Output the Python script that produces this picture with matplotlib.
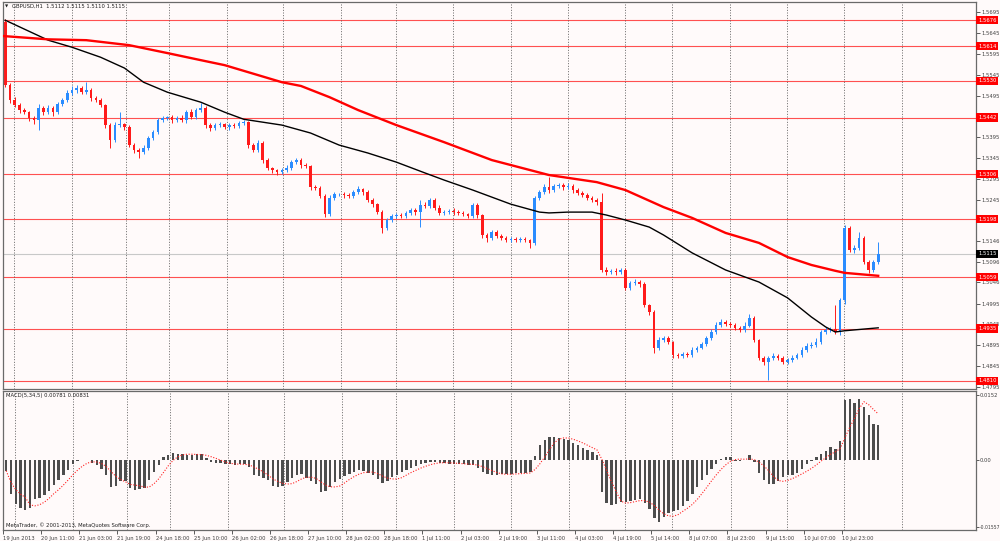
import numpy as np
import pandas as pd
import matplotlib
matplotlib.use("Agg")
import matplotlib.pyplot as plt
from matplotlib.transforms import blended_transform_factory

# GBPUSD H1 shown as 2-hour candles, 19 Jun - 10 Jul 2013
first_open = 1.5672
closes = [
    1.5520, 1.5484, 1.5472, 1.5460, 1.5455, 1.5441, 1.5436, 1.5465, 1.5455, 1.5465,
    1.5455, 1.5474, 1.5484, 1.5501, 1.5508, 1.5513, 1.5503, 1.5508, 1.5489, 1.5484,
    1.5472, 1.5424, 1.5388, 1.5424, 1.5426, 1.5419, 1.5376, 1.5364, 1.5359, 1.5369,
    1.5393, 1.5407, 1.5436, 1.5441, 1.5443, 1.5436, 1.5441, 1.5436, 1.5455, 1.5443,
    1.5460, 1.5465, 1.5424, 1.5417, 1.5424, 1.5426, 1.5419, 1.5424, 1.5422, 1.5429,
    1.5431, 1.5376, 1.5364, 1.5381, 1.5340, 1.5321, 1.5316, 1.5311, 1.5316, 1.5321,
    1.5335, 1.5340, 1.5328, 1.5326, 1.5275, 1.5273, 1.5254, 1.5210, 1.5249, 1.5258,
    1.5258, 1.5256, 1.5254, 1.5263, 1.5270, 1.5263, 1.5244, 1.5234, 1.5215, 1.5177,
    1.5196, 1.5206, 1.5208, 1.5206, 1.5213, 1.5220, 1.5215, 1.5232, 1.5230, 1.5244,
    1.5225, 1.5213, 1.5215, 1.5218, 1.5215, 1.5213, 1.5210, 1.5206, 1.5232, 1.5208,
    1.5160, 1.5153, 1.5167, 1.5158, 1.5153, 1.5148, 1.5150, 1.5148, 1.5150, 1.5148,
    1.5141, 1.5249, 1.5263, 1.5275, 1.5268, 1.5278, 1.5280, 1.5275, 1.5278, 1.5268,
    1.5261, 1.5256, 1.5249, 1.5244, 1.5239, 1.5076, 1.5071, 1.5074, 1.5071, 1.5076,
    1.5033, 1.5045, 1.5048, 1.5042, 1.4992, 1.4975, 1.4889, 1.4908, 1.4913, 1.4903,
    1.4872, 1.4870, 1.4874, 1.4872, 1.4884, 1.4889, 1.4898, 1.4913, 1.4927, 1.4944,
    1.4951, 1.4946, 1.4944, 1.4937, 1.4932, 1.4942, 1.4961, 1.4908, 1.4865, 1.4855,
    1.4865, 1.4870, 1.4865, 1.4855, 1.4860, 1.4865, 1.4872, 1.4884, 1.4894, 1.4896,
    1.4903, 1.4927, 1.4932, 1.4934, 1.4927, 1.5004, 1.5177, 1.5124, 1.5129, 1.5153,
    1.5095, 1.5076, 1.5095, 1.5115,
]
# wick length above / below the body, in pips
hi_pips = [
    6, 4, 8, 5, 6, 4, 5, 10, 6, 8,
    5, 6, 5, 7, 10, 8, 6, 19, 5, 4,
    5, 3, 5, 8, 29, 4, 5, 4, 5, 6,
    5, 6, 5, 5, 4, 6, 5, 8, 6, 7,
    6, 12, 4, 5, 6, 5, 4, 5, 6, 5,
    6, 3, 4, 6, 4, 4, 3, 3, 5, 6,
    5, 6, 4, 5, 3, 5, 4, 4, 6, 5,
    4, 5, 6, 5, 7, 4, 5, 4, 3, 4,
    5, 4, 6, 5, 4, 5, 6, 12, 7, 4,
    5, 6, 4, 5, 6, 4, 5, 3, 5, 4,
    3, 4, 5, 4, 5, 4, 5, 4, 5, 4,
    3, 5, 6, 8, 24, 5, 6, 5, 6, 5,
    4, 5, 4, 5, 6, 22, 8, 5, 6, 5,
    4, 5, 6, 5, 4, 3, 4, 6, 5, 4,
    3, 5, 4, 5, 6, 5, 6, 5, 6, 8,
    7, 6, 5, 4, 5, 8, 10, 4, 3, 4,
    5, 6, 5, 4, 5, 6, 5, 6, 7, 6,
    10, 5, 6, 5, 58, 5, 7, 4, 8, 14,
    5, 4, 6, 28,
]
lo_pips = [
    4, 6, 5, 8, 5, 6, 10, 24, 6, 5,
    8, 5, 4, 5, 4, 6, 5, 4, 6, 5,
    4, 6, 19, 5, 4, 6, 5, 6, 14, 5,
    4, 6, 5, 4, 5, 6, 5, 4, 6, 5,
    4, 5, 6, 8, 5, 4, 5, 6, 5, 4,
    5, 6, 5, 4, 6, 5, 8, 6, 5, 4,
    5, 4, 6, 5, 6, 5, 6, 7, 5, 4,
    5, 6, 5, 4, 5, 6, 5, 6, 5, 12,
    6, 5, 4, 5, 6, 5, 6, 36, 5, 4,
    6, 5, 4, 5, 6, 5, 4, 5, 4, 6,
    8, 10, 6, 5, 4, 6, 5, 4, 5, 6,
    12, 4, 5, 4, 6, 5, 4, 6, 5, 6,
    5, 4, 6, 5, 8, 6, 8, 5, 6, 5,
    6, 5, 4, 6, 5, 8, 12, 5, 4, 6,
    8, 5, 6, 5, 4, 5, 4, 5, 6, 5,
    4, 5, 6, 5, 6, 5, 4, 5, 6, 8,
    43, 5, 6, 5, 6, 5, 4, 5, 4, 6,
    5, 4, 6, 5, 6, 8, 10, 5, 8, 6,
    5, 8, 6, 5,
]
macd = [
    -0.0025, -0.0080, -0.0102, -0.0112, -0.0117, -0.0113, -0.0092, -0.0089, -0.0082, -0.0072,
    -0.0058, -0.0046, -0.0035, -0.0023, -0.0010, -0.0003, 0.0000, -0.0001, -0.0007, -0.0012,
    -0.0021, -0.0034, -0.0062, -0.0060, -0.0050, -0.0048, -0.0065, -0.0070, -0.0068, -0.0066,
    -0.0047, -0.0027, -0.0012, 0.0006, 0.0012, 0.0016, 0.0015, 0.0013, 0.0012, 0.0012,
    0.0013, 0.0014, 0.0004, -0.0004, -0.0007, -0.0008, -0.0009, -0.0010, -0.0012, -0.0009,
    -0.0010, -0.0016, -0.0035, -0.0038, -0.0042, -0.0047, -0.0060, -0.0063, -0.0060, -0.0051,
    -0.0042, -0.0035, -0.0032, -0.0042, -0.0050, -0.0055, -0.0074, -0.0072, -0.0062, -0.0052,
    -0.0044, -0.0038, -0.0032, -0.0028, -0.0024, -0.0026, -0.0030, -0.0034, -0.0045, -0.0054,
    -0.0048, -0.0040, -0.0035, -0.0029, -0.0023, -0.0018, -0.0014, -0.0010, -0.0008, -0.0005,
    -0.0004, -0.0006, -0.0008, -0.0009, -0.0009, -0.0009, -0.0010, -0.0011, -0.0012, -0.0018,
    -0.0027, -0.0033, -0.0035, -0.0034, -0.0033, -0.0032, -0.0032, -0.0031, -0.0031, -0.0030,
    -0.0027, 0.0010, 0.0035, 0.0048, 0.0054, 0.0055, 0.0052, 0.0050, 0.0046, 0.0040,
    0.0035, 0.0029, 0.0023, 0.0018, 0.0012, -0.0075, -0.0100, -0.0105, -0.0102, -0.0099,
    -0.0097, -0.0095, -0.0093, -0.0090, -0.0100, -0.0115, -0.0135, -0.0146, -0.0133, -0.0124,
    -0.0119, -0.0116, -0.0107, -0.0096, -0.0080, -0.0062, -0.0047, -0.0035, -0.0020, -0.0010,
    0.0003, 0.0006, 0.0008, -0.0002, -0.0003, 0.0000, 0.0012, -0.0004, -0.0030, -0.0047,
    -0.0056, -0.0056, -0.0050, -0.0040, -0.0036, -0.0034, -0.0031, -0.0020, -0.0010, -0.0002,
    0.0006, 0.0014, 0.0020, 0.0030, 0.0026, 0.0045, 0.0140, 0.0142, 0.0133, 0.0143,
    0.0124, 0.0105, 0.0085, 0.0082,
]

# moving averages (bar index, price)
ma_black_bar = [0, 9, 14, 20, 25, 29, 34, 41, 46, 50, 58, 64, 70, 76, 82, 88, 92, 98,
                106, 112, 114, 118, 123, 126, 130, 135, 138, 144, 151, 158, 164, 169,
                172, 174, 176, 183]
ma_black = [1.5676, 1.5628, 1.5611, 1.5587, 1.5561, 1.5527, 1.5503, 1.5479, 1.5455,
            1.5438, 1.5424, 1.5405, 1.5376, 1.5357, 1.5335, 1.5309, 1.5292, 1.5268,
            1.5234, 1.5215, 1.5213, 1.5215, 1.5215, 1.5208, 1.5196, 1.5179, 1.5160,
            1.5117, 1.5076, 1.5047, 1.5009, 1.4963, 1.4939, 1.4927, 1.4930, 1.4937]
ma_red_bar = [-0.5, 9, 17, 26, 34, 41, 46, 58, 62, 68, 74, 82, 92, 102, 114, 124, 130,
              138, 144, 151, 158, 164, 169, 174, 176, 183]
ma_red = [1.5638, 1.5630, 1.5628, 1.5616, 1.5597, 1.5580, 1.5568, 1.5527, 1.5518,
          1.5491, 1.5460, 1.5424, 1.5383, 1.5340, 1.5304, 1.5287, 1.5268, 1.5227,
          1.5201, 1.5165, 1.5141, 1.5107, 1.5088, 1.5074, 1.5069, 1.5062]

levels = [1.5676, 1.5614, 1.5530, 1.5442, 1.5306, 1.5198, 1.5059, 1.4935, 1.4810]
last_price = 1.5115
price_ticks = [1.5695, 1.5645, 1.5595, 1.5545, 1.5495, 1.5445, 1.5395, 1.5345, 1.5295,
               1.5245, 1.5195, 1.5146, 1.5096, 1.5046, 1.4995, 1.4945, 1.4895, 1.4845,
               1.4795]
# tick labels fully hidden under a level box in the reference
hidden_ticks = [1.5445, 1.5195]
macd_ticks = [0.0152, 0.0, -0.01557]
macd_tick_labels = ["0.0152", "0.00", "-0.01557"]
day_starts = [1.8, 14.0, 25.3, 34.3, 46.5, 58.2, 70.4, 81.9, 93.9, 106.0, 118.0,
              129.9, 139.8, 152.0, 163.9, 175.9, 188.0]
time_labels = ["19 Jun 2013", "20 Jun 11:00", "21 Jun 03:00", "21 Jun 19:00",
               "24 Jun 18:00", "25 Jun 10:00", "26 Jun 02:00", "26 Jun 18:00",
               "27 Jun 10:00", "28 Jun 02:00", "28 Jun 18:00", "1 Jul 11:00",
               "2 Jul 03:00", "2 Jul 19:00", "3 Jul 11:00", "4 Jul 03:00",
               "4 Jul 19:00", "5 Jul 14:00", "8 Jul 07:00", "8 Jul 23:00",
               "9 Jul 15:00", "10 Jul 07:00", "10 Jul 23:00"]
bars_per_label = 8

BG = "#fffafa"
UP = "#2a8cff"
DOWN = "#ff1a1a"
FS = 3.8
plt.rcParams["font.family"] = ["DejaVu Sans"]

c = np.array(closes)
o = np.concatenate([[first_open], c[:-1]])
hi = np.maximum(o, c) + np.array(hi_pips) * 0.0001
lo = np.minimum(o, c) - np.array(lo_pips) * 0.0001
k = np.arange(len(c))
up = c >= o
body = np.where(np.abs(c - o) < 0.00008, 0.00008, np.abs(c - o))
col = np.where(up, UP, DOWN)

fig = plt.figure(figsize=(10, 5.41), dpi=100, facecolor=BG)
ax = fig.add_axes([0.003, 0.281, 0.973, 0.7153], facecolor=BG)
mx = fig.add_axes([0.003, 0.0203, 0.973, 0.2569], facecolor=BG)
xlim = (-0.46, 203.5)

# ---- price window
for lv in levels:
    ax.axhline(lv, color="#ff5050", lw=0.8, zorder=1)
ax.axhline(last_price, color="#c8c8c8", lw=0.8, zorder=1)
for d in day_starts:
    ax.axvline(d, color="#505050", lw=0.6, ls=(0, (1.2, 2)), zorder=1)
    mx.axvline(d, color="#505050", lw=0.6, ls=(0, (1.2, 2)), zorder=1)

ax.vlines(k, lo, hi, colors=col, lw=0.7, zorder=2)
ax.bar(k, body, bottom=np.minimum(o, c), width=0.55, color=col, lw=0, zorder=2)
ax.plot(ma_black_bar, ma_black, color="black", lw=1.0, zorder=3)
ax.plot(ma_red_bar, ma_red, color="#ff0000", lw=1.7, zorder=3)

ax.set_xlim(*xlim)
ax.set_ylim(1.47901, 1.57197)
ax.set_xticks([])
ax.yaxis.tick_right()
ax.set_yticks(price_ticks)
ax.set_yticklabels(["" if v in hidden_ticks else "%.4f" % v for v in price_ticks])
ax.tick_params(axis="y", length=3, width=0.6, colors="#404040", labelsize=FS, pad=1.2)

tr = blended_transform_factory(ax.transAxes, ax.transData)
for lv in levels:
    ax.text(1.002, lv, "%.4f" % lv, transform=tr, ha="left", va="center",
            fontsize=FS, color="white", zorder=6, clip_on=False,
            bbox=dict(facecolor="#ff0000", edgecolor="none", pad=1.2))
ax.text(1.002, last_price, "%.4f" % last_price, transform=tr, ha="left", va="center",
        fontsize=FS, color="white", zorder=6, clip_on=False,
        bbox=dict(facecolor="black", edgecolor="none", pad=1.2))

ax.text(0.002, 0.988, "\u25bc", transform=ax.transAxes, fontsize=3.0, color="#202020",
        ha="left", va="center")
ax.text(0.009, 0.988, "GBPUSD,H1  1.5112 1.5115 1.5110 1.5115", transform=ax.transAxes,
        fontsize=FS, color="#202020", ha="left", va="center")

# ---- MACD window
mx.bar(k, macd, width=0.5, color="#4d4d4d", lw=0, zorder=2)
signal = pd.Series(macd).rolling(5, min_periods=1).mean()
mx.plot(k, signal, color="#ff2020", lw=0.8, ls=(0, (1, 1.5)), zorder=3)
mx.set_xlim(*xlim)
mx.set_ylim(-0.01637, 0.01614)
mx.yaxis.tick_right()
mx.set_yticks(macd_ticks)
mx.set_yticklabels(macd_tick_labels)
mx.tick_params(axis="y", length=2, width=0.6, colors="#404040", labelsize=FS, pad=0.5)
mx.get_yticklabels()[-1].set_fontsize(3.3)
lab_pos = np.arange(len(time_labels)) * bars_per_label - 0.67
mx.set_xticks(lab_pos)
mx.set_xticklabels(time_labels)
mx.tick_params(axis="x", length=3, width=0.6, colors="#404040", labelsize=FS, pad=1)
for t in mx.get_xticklabels():
    t.set_ha("left")

mx.text(0.003, 0.965, "MACD(5,34,5) 0.00781 0.00831", transform=mx.transAxes,
        fontsize=FS, color="#202020", ha="left", va="center")
mx.text(0.003, 0.035, "MetaTrader, \u00a9 2001-2013, MetaQuotes Software Corp.",
        transform=mx.transAxes, fontsize=FS, color="#202020", ha="left", va="center")

for a in (ax, mx):
    for s in a.spines.values():
        s.set_color("#6a6a6a")
        s.set_linewidth(0.9)

fig.savefig("out.png", dpi=100, facecolor=BG)
